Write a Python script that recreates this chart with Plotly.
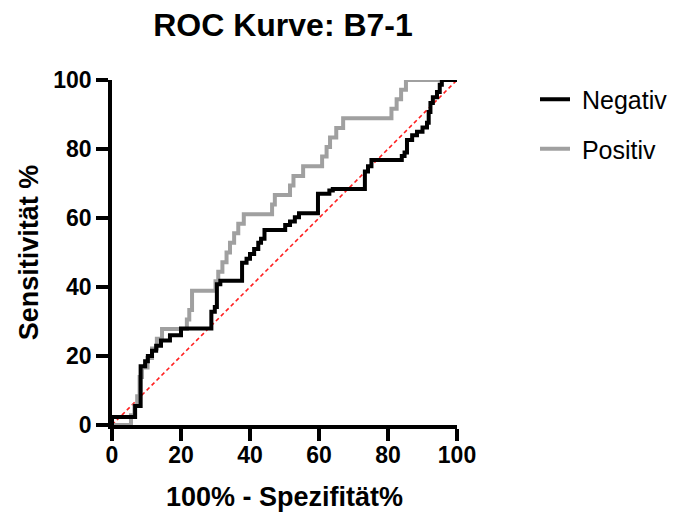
import plotly.graph_objects as go

# Data: corner points of the ROC staircase (vertical-then-horizontal steps)
neg_x = [0, 6.7, 8.3, 9.6, 10.4, 11.6, 12.8, 14.2, 16.8, 20, 28.8, 29.8, 30.4, 31.4, 37.7,
         39, 40, 41.2, 42.4, 43.2, 44.2, 50.2, 51.6, 53, 54.2, 59.7, 63, 64, 73.3, 74.2,
         75.2, 84, 84.8, 85.5, 87, 88.4, 90, 91.3, 91.8, 92.3, 93, 94.2, 95, 95.6, 100]
neg_y = [0, 2.3, 5.5, 17, 18.5, 20, 21.5, 23, 24.5, 26, 28, 32.8, 34.2, 40.8, 41.8,
         47, 48.2, 49.6, 51, 52.8, 54, 56.5, 58, 59, 60.2, 61.4, 67, 68, 68.4, 73.5,
         75, 76.8, 78, 79, 82.6, 84, 85, 86.2, 87.6, 90.7, 93.3, 95, 96.5, 98.6, 100]

pos_x = [0, 5.5, 6.5, 7.3, 8, 8.7, 10.3, 11.6, 13, 14.5, 21.7, 22.4, 23.2, 30, 30.8,
         32, 33.2, 34.2, 35.4, 36.6, 38.2, 46.4, 47.2, 51.6, 52.6, 55.4, 60.9, 62.2,
         63.2, 65, 67, 81, 82.5, 83.8, 85.2, 100]
pos_y = [0, 0, 2.8, 5.6, 8.3, 13.9, 16.7, 19.4, 22.2, 25, 27.8, 30.6, 33.3, 38.9, 41.7,
         44.4, 47.2, 50, 52.8, 55.6, 58.3, 61.1, 63.9, 66.7, 69.4, 72.2, 75, 77.8,
         80.6, 83.3, 86.1, 88.9, 91.7, 94.4, 97.2, 100]

ref_x = [0, 100]
ref_y = [0, 100]

tick_vals = [0, 20, 40, 60, 80, 100]
series_names = ["Negativ", "Positiv"]

FONT = "Arial, Liberation Sans, sans-serif"
PAD = "\u00a0"

fig = go.Figure()
fig.add_trace(go.Scatter(x=ref_x, y=ref_y, mode="lines", showlegend=False,
                         line=dict(color="#ff2020", width=1.6, dash="4px,3px"),
                         cliponaxis=False, hoverinfo="skip"))
fig.add_trace(go.Scatter(x=pos_x, y=pos_y, mode="lines", name=PAD + series_names[1],
                         line=dict(color="#a0a0a0", width=4, shape="vh"),
                         cliponaxis=False, legendrank=2, legendgroup="b"))
fig.add_trace(go.Scatter(x=neg_x, y=neg_y, mode="lines", name=PAD + series_names[0],
                         line=dict(color="#000000", width=4, shape="vh"),
                         cliponaxis=False, legendrank=1, legendgroup="a"))

axis_common = dict(
    range=[0, 100], tickvals=tick_vals, ticks="outside", ticklen=12, tickwidth=3.5,
    tickcolor="black", showline=True, linecolor="black", linewidth=3.5,
    showgrid=False, zeroline=False,
    tickfont=dict(family=FONT, size=23, color="black", weight="bold"),
)

fig.update_layout(
    width=686, height=520,
    margin=dict(l=112, r=229, t=80, b=95),
    paper_bgcolor="white", plot_bgcolor="white",
    title=dict(text="<b>ROC Kurve: B7-1</b>", x=283 / 686, xanchor="center",
               y=1 - 25 / 520, yanchor="middle",
               font=dict(family=FONT, size=32, color="black")),
    xaxis=dict(**axis_common, ticklabelstandoff=-5,
               title=dict(text="<b>100% - Spezifität%</b>", standoff=21,
                          font=dict(family=FONT, size=27, color="black"))),
    yaxis=dict(**axis_common,
               title=dict(text="<b>Sensitivität %</b>", standoff=8,
                          font=dict(family=FONT, size=27, color="black"))),
    legend=dict(x=(535 - 112) / 345, xanchor="left", y=1.01, yanchor="top",
                font=dict(family=FONT, size=25, color="black"),
                tracegroupgap=14, bgcolor="rgba(0,0,0,0)"),
)

fig.write_html("out.html")
